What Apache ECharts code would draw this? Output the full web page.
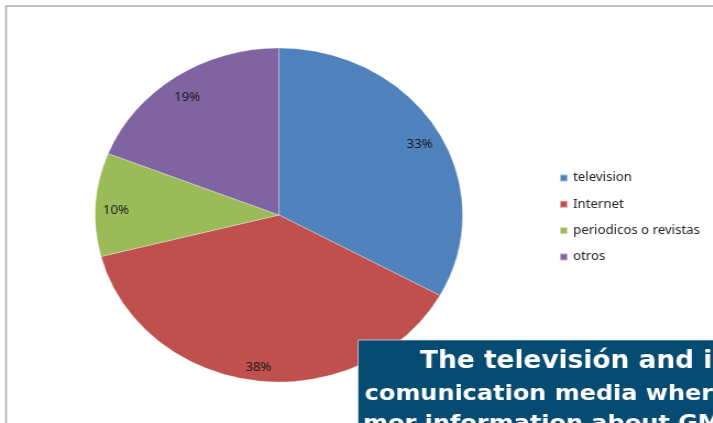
<!DOCTYPE html>
<html>
<head>
<meta charset="utf-8">
<script src="https://cdn.jsdelivr.net/npm/echarts@6/dist/echarts.min.js"></script>
<style>
html,body{margin:0;padding:0;background:#fff;overflow:hidden;}
#wrap{width:713px;height:423px;overflow:hidden;position:relative;}
#chart{width:649px;height:423px;transform:scaleX(1.1);transform-origin:0 0;}
</style>
</head>
<body>
<div id="wrap"><div id="chart"></div></div>
<script>
const categories = ['television', 'Internet', 'periodicos o revistas', 'otros'];
const values = [33, 38, 10, 19];
const colors = ['#4F81BD', '#C0504D', '#9BBB59', '#8064A2'];
const boxLines = [
  'The televisión and internet are the',
  'comunication media where people get',
  'mor information about GMO'
];

const chart = echarts.init(document.getElementById('chart'), null, {renderer: 'canvas'});
const center = [253.6, 215];
const labelCenter = [253.6, 220];
const R = 167;
const pieData = categories.map((n, i) => ({name: n, value: values[i], itemStyle: {color: colors[i]}}));

chart.setOption({
  animation: false,
  legend: {
    orient: 'vertical',
    left: 508,
    top: 172,
    padding: 0,
    itemWidth: 7,
    itemHeight: 7,
    itemGap: 14.3,
    icon: 'rect',
    textStyle: {fontFamily: 'Noto Sans', fontSize: 12, color: '#222'},
    data: categories
  },
  series: [
    {
      type: 'pie',
      center: center,
      radius: R,
      startAngle: 90,
      clockwise: true,
      silent: true,
      label: {show: false},
      labelLine: {show: false},
      itemStyle: {borderColor: 'rgba(255,255,255,0.5)', borderWidth: 0.6},
      data: pieData
    },
    {
      type: 'pie',
      center: labelCenter,
      radius: [124, R],
      startAngle: 90,
      clockwise: true,
      silent: true,
      legendHoverLink: false,
      itemStyle: {color: 'rgba(0,0,0,0)', borderWidth: 0},
      label: {
        show: true,
        position: 'inside',
        formatter: '{c}%',
        fontFamily: 'Noto Sans',
        fontSize: 12,
        color: '#1a1a1a'
      },
      labelLine: {show: false},
      data: categories.map((n, i) => ({name: n, value: values[i]}))
    }
  ],
  graphic: [
    {
      type: 'rect', silent: true, z: 0,
      shape: {x: 5.5, y: 6, width: 700, height: 500},
      style: {fill: 'none', stroke: '#ababab', lineWidth: 1.6}
    },
    {
      type: 'rect', silent: true, z: 10,
      shape: {x: 325.5, y: 340, width: 400, height: 120},
      style: {fill: '#064c72', stroke: '#d0d6dc', lineWidth: 0.8}
    },
    {
      type: 'text', silent: true, z: 11,
      style: {text: boxLines[0], x: 381.8, y: 362, fill: '#fff', font: 'bold 24px "DejaVu Sans"', textVerticalAlign: 'middle'}
    },
    {
      type: 'text', silent: true, z: 11,
      style: {text: boxLines[1], x: 331.5, y: 394, fill: '#fff', font: 'bold 21.8px "DejaVu Sans"', textVerticalAlign: 'middle'}
    },
    {
      type: 'text', silent: true, z: 11,
      style: {text: boxLines[2], x: 330, y: 424, fill: '#fff', font: 'bold 21.8px "DejaVu Sans"', textVerticalAlign: 'middle'}
    }
  ]
});
</script>
</body>
</html>
